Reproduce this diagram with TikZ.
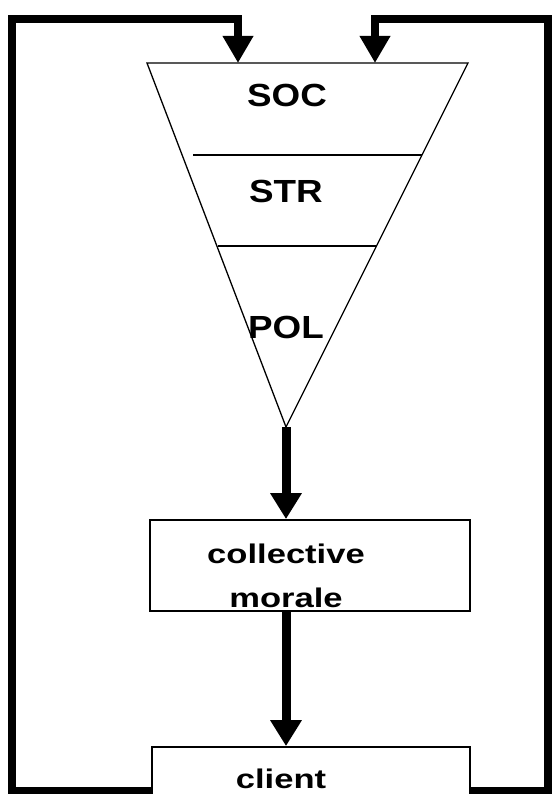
\documentclass[tikz,border=0pt]{standalone}
\usepackage{fontspec}
\usetikzlibrary{arrows.meta}
\newfontfamily\trifont{Liberation Sans}[FakeStretch=1.15]
\newfontfamily\boxfont{Liberation Sans}[FakeStretch=1.28]
\begin{document}
\begin{tikzpicture}[x=1pt,y=-1pt,
  thin line/.style={line width=1.3pt},
  boxline/.style={draw,line width=1.8pt,inner sep=0pt},
  trilabel/.style={inner sep=0pt,anchor=base,font=\trifont\bfseries\fontsize{32}{36}\selectfont},
  boxlabel/.style={inner sep=0pt,anchor=base,font=\boxfont\bfseries\fontsize{27}{30}\selectfont},
  flow/.style={line width=9pt,-{Triangle[width=30pt,length=26pt]}},
  loop/.style={line width=8pt,line join=miter,-{Triangle[width=29pt,length=27pt]}}]
\clip (0,0) rectangle (556,794);
\fill[white] (0,0) rectangle (556,794);
% triangle
\coordinate (tl) at (147,63);
\coordinate (tr) at (468,63);
\coordinate (apex) at (286,427);
\draw[thin line,line join=miter] (tl) -- (tr) -- (apex) -- cycle;
\coordinate (d1a) at (193,155);
\coordinate (d1b) at (422,155);
\coordinate (d2a) at (218,246);
\coordinate (d2b) at (377,246);
\draw[thin line] (d1a) -- (d1b);
\draw[thin line] (d2a) -- (d2b);
\node[trilabel] (soc) at (287,107) {SOC};
\node[trilabel] (str) at (286,203) {STR};
\node[trilabel] (pol) at (286,338) {POL};
% boxes
\node[boxline,minimum width=320pt,minimum height=91pt] (cm) at (310,565.5) {};
\node[boxlabel] (cmt1) at (286,563) {collective};
\node[boxlabel] (cmt2) at (286,607) {morale};
\node[boxline,minimum width=318pt,minimum height=100pt] (client) at (311,797) {};
\node[boxlabel] (clt) at (281,788) {client};
% flow arrows
\draw[flow] (apex) -- (cm.north -| apex);
\draw[flow] (cm.south -| apex) -- (client.north -| apex);
% feedback loops
\coordinate (bl) at (12,791);
\coordinate (br) at (548,791);
\coordinate (inL) at (238,63);
\coordinate (inR) at (375,63);
\draw[loop] (client.west |- bl) -- (bl) -- (12,19) -- (inL |- 0,19) -- (inL);
\draw[loop] (client.east |- br) -- (br) -- (548,19) -- (inR |- 0,19) -- (inR);
\end{tikzpicture}
\end{document}
